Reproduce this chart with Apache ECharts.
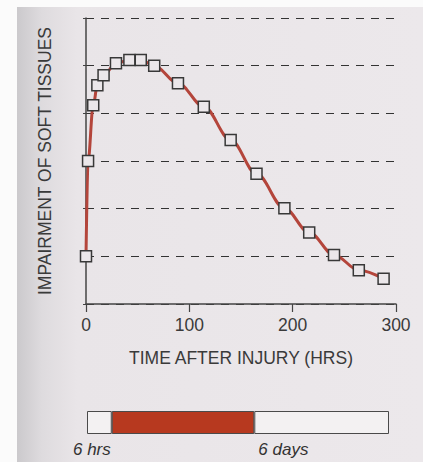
<!DOCTYPE html>
<html>
<head>
<meta charset="utf-8">
<script src="https://cdn.jsdelivr.net/npm/echarts@6/dist/echarts.min.js"></script>
<style>
html,body{margin:0;padding:0;background:#fbfbfb;}
#bg{position:absolute;left:17px;top:7px;width:406px;height:455px;
background:linear-gradient(to right,#cbc9cc 0px,#dedbde 25px,#e9e5e8 60px,#ece8eb 100%);}
#chart{position:absolute;left:0;top:0;width:423px;height:462px;}
</style>
</head>
<body>
<div id="bg"></div>
<div id="chart"></div>
<script>
// Data
var hours = [0, 2, 7, 11, 17, 29, 42, 53, 66, 89, 114, 140, 165, 192, 216, 240, 264, 288];
var impairment = [1.0, 3.0, 4.17, 4.59, 4.8, 5.05, 5.12, 5.12, 5.0, 4.63, 4.14, 3.44, 2.73, 2.01, 1.5, 1.03, 0.71, 0.53];
var xTicks = [0, 100, 200, 300];
var yLevels = [0, 1, 2, 3, 4, 5, 6];
// timeline bar (schematic, percent of box width)
var barSegments = [8.2, 47.2, 44.6];
var barLabels = ['6 hrs', '6 days', ''];
var barColors = ['#f3f1f2', '#b7391f', '#f3f1f2'];

var chart = echarts.init(document.getElementById('chart'), null, {renderer: 'svg'});
var bg = '#ebe7ea';
var points = hours.map(function (h, i) { return [h, impairment[i]]; });
var font = 'Liberation Sans, Arial, sans-serif';

var barSeries = barSegments.map(function (v, i) {
  return {
    type: 'bar', xAxisIndex: 1, yAxisIndex: 1, stack: 'tl', barWidth: 23,
    data: [v], silent: true,
    itemStyle: {color: barColors[i], borderColor: '#4a4a4a', borderWidth: 1},
    label: {
      show: barLabels[i] !== '',
      formatter: barLabels[i],
      position: ['100%', '100%'],
      offset: i === 0 ? [-1, 7] : [4, 7],
      align: i === 0 ? 'right' : 'left',
      verticalAlign: 'top',
      fontStyle: 'italic', fontSize: 17, color: '#333',
      fontFamily: font
    }
  };
});

chart.setOption({
  animation: false,
  backgroundColor: 'transparent',
  textStyle: {fontFamily: font},
  grid: [
    {left: 86, right: 27, top: 18, bottom: 158},
    {left: 87, right: 34, top: 411, height: 23}
  ],
  xAxis: [{
    type: 'value', gridIndex: 0, min: 0, max: 300, interval: 100,
    name: 'TIME AFTER INJURY (HRS)', nameLocation: 'middle', nameGap: 45,
    nameTextStyle: {fontSize: 17.5, color: '#3a3a3a'},
    axisLine: {show: true, lineStyle: {color: '#444', width: 1.5}},
    axisTick: {show: true, inside: false, length: 8, lineStyle: {color: '#444', width: 1.2}},
    axisLabel: {fontSize: 17.5, color: '#3a3a3a', margin: 12,
      formatter: function (v) { return xTicks.indexOf(v) >= 0 ? String(v) : ''; }},
    splitLine: {show: false}
  }, {
    type: 'value', gridIndex: 1, min: 0, max: 100, show: false
  }],
  yAxis: [{
    type: 'value', gridIndex: 0, min: yLevels[0], max: yLevels[yLevels.length - 1], interval: 1,
    name: 'IMPAIRMENT OF SOFT TISSUES', nameLocation: 'middle', nameGap: 32,
    nameTextStyle: {fontSize: 17.5, color: '#3a3a3a'},
    axisLine: {show: true, lineStyle: {color: '#444', width: 1.5}},
    axisTick: {show: true, length: 3, lineStyle: {color: '#444'}},
    axisLabel: {show: false},
    splitLine: {show: true, lineStyle: {color: '#333', width: 1, type: [8, 7]}}
  }, {
    type: 'category', gridIndex: 1, data: ['bar'], show: false
  }],
  series: [{
    type: 'line', xAxisIndex: 0, yAxisIndex: 0,
    data: points, smooth: 0.35, smoothMonotone: 'x',
    lineStyle: {color: '#b4453b', width: 3},
    symbol: 'rect', symbolSize: 11,
    itemStyle: {color: bg, borderColor: '#383838', borderWidth: 1.5},
    z: 5
  }].concat(barSeries)
});
</script>
</body>
</html>
